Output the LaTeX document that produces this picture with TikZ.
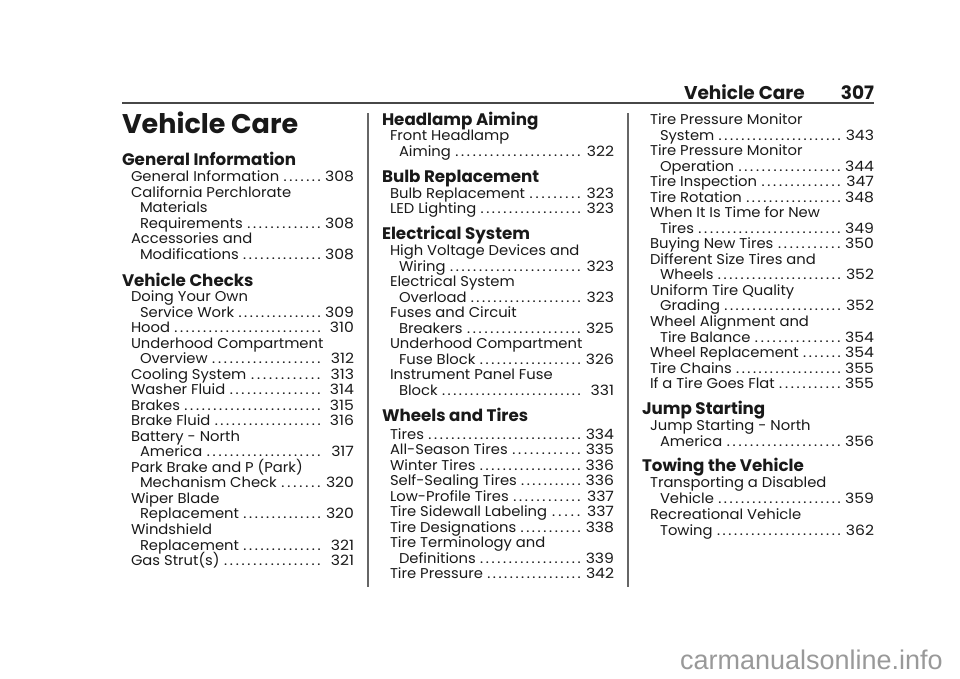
\documentclass[tikz,border=0pt]{standalone}
\usepackage{fontspec}
\setmainfont{Poppins}
\newfontfamily\wmfont{Liberation Sans}
\newfontfamily\pagefont[FakeStretch=1.1]{Poppins}
\newfontfamily\bodyfam[FakeStretch=1.04]{Poppins}
\definecolor{ink}{gray}{0.1}
\definecolor{rulec}{gray}{0.4}
\definecolor{wm}{gray}{0.6}
\newcounter{nn}
\newcommand{\bodyf}{\bodyfam\fontsize{14.2}{15}\selectfont}
\newcommand{\headf}{\fontsize{16.7}{17}\bfseries\selectfont}
\newcommand{\pgn}[1]{\hbox to 30pt{\hss\pagefont\fontsize{14.2}{15}\selectfont #1}}
\tikzset{
  txt/.style={anchor=base west,inner sep=0pt,outer sep=0pt,text=ink},
  txtr/.style={anchor=base east,inner sep=0pt,outer sep=0pt,text=ink},
  colrule/.style={draw=rulec,line width=1.3pt},
  toprule/.style={draw=rulec!70!black,line width=1.6pt}
}
% \ent{x0}{y}{xright}{text}{page}
\newcommand{\ent}[5]{\stepcounter{nn}%
  \path let \n1={#3-#1} in node[txt] (e\thenn) at (#1,#2) {\bodyf\hbox to \n1 pt{#4\hskip 3pt\xleaders\hbox to 5.6pt{\hss.\hss}\hfill\hskip 2pt\pgn{#5}}};}
\newcommand{\lin}[3]{\stepcounter{nn}\node[txt] (e\thenn) at (#1,#2) {\bodyf #3};}
\newcommand{\hd}[3]{\stepcounter{nn}\node[txt] (e\thenn) at (#1,#2) {\headf #3};}
\usetikzlibrary{calc}
\begin{document}
\begin{tikzpicture}[x=1pt,y=-1pt]
\useasboundingbox (0,0) rectangle (960,678);
\fill[white] (0,0) rectangle (960,678);
% header
\node[txt] (hd1) at (684,99) {\fontsize{18.5}{19}\bfseries\selectfont Vehicle Care};
\node[txtr] (hd2) at (874,99) {\fontsize{18.5}{19}\bfseries\selectfont 307};
\draw[toprule] (122,103) -- (874,103);
\draw[colrule] (368,113) -- (368,587);
\draw[colrule] (628,113) -- (628,587);
\node[txt] (ttl) at (122,133) {\fontsize{27}{28}\bfseries\selectfont Vehicle Care};
% column 1
\hd{122}{165}{General Information}
\ent{131}{181}{354}{General Information}{308}
\lin{131}{197}{California Perchlorate}
\lin{140}{212}{Materials}
\ent{140}{228}{354}{Requirements}{308}
\lin{131}{243}{Accessories and}
\ent{140}{259}{354}{Modifications}{308}
\hd{122}{286}{Vehicle Checks}
\lin{131}{301}{Doing Your Own}
\ent{140}{317}{354}{Service Work}{309}
\ent{131}{332}{354}{Hood}{310}
\lin{131}{348}{Underhood Compartment}
\ent{140}{363}{354}{Overview}{312}
\ent{131}{379}{354}{Cooling System}{313}
\ent{131}{394}{354}{Washer Fluid}{314}
\ent{131}{410}{354}{Brakes}{315}
\ent{131}{425}{354}{Brake Fluid}{316}
\lin{131}{441}{Battery - North}
\ent{140}{456}{354}{America}{317}
\lin{131}{472}{Park Brake and P (Park)}
\ent{140}{487}{354}{Mechanism Check}{320}
\lin{131}{503}{Wiper Blade}
\ent{140}{518}{354}{Replacement}{320}
\lin{131}{534}{Windshield}
\ent{140}{550}{354}{Replacement}{321}
\ent{131}{565}{354}{Gas Strut(s)}{321}
% column 2
\hd{382}{125}{Headlamp Aiming}
\lin{390}{140}{Front Headlamp}
\ent{399}{156}{614}{Aiming}{322}
\hd{382}{182}{Bulb Replacement}
\ent{390}{198}{614}{Bulb Replacement}{323}
\ent{390}{213}{614}{LED Lighting}{323}
\hd{382}{239}{Electrical System}
\lin{390}{255}{High Voltage Devices and}
\ent{399}{271}{614}{Wiring}{323}
\lin{390}{286}{Electrical System}
\ent{399}{302}{614}{Overload}{323}
\lin{390}{317}{Fuses and Circuit}
\ent{399}{333}{614}{Breakers}{325}
\lin{390}{348}{Underhood Compartment}
\ent{399}{364}{614}{Fuse Block}{326}
\lin{390}{379}{Instrument Panel Fuse}
\ent{399}{395}{614}{Block}{331}
\hd{382}{421}{Wheels and Tires}
\ent{390}{439}{614}{Tires}{334}
\ent{390}{454}{614}{All-Season Tires}{335}
\ent{390}{470}{614}{Winter Tires}{336}
\ent{390}{485}{614}{Self-Sealing Tires}{336}
\ent{390}{501}{614}{Low-Profile Tires}{337}
\ent{390}{516}{614}{Tire Sidewall Labeling}{337}
\ent{390}{532}{614}{Tire Designations}{338}
\lin{390}{547}{Tire Terminology and}
\ent{399}{563}{614}{Definitions}{339}
\ent{390}{578}{614}{Tire Pressure}{342}
% column 3
\lin{650}{124}{Tire Pressure Monitor}
\ent{660}{140}{874}{System}{343}
\lin{650}{155}{Tire Pressure Monitor}
\ent{660}{171}{874}{Operation}{344}
\ent{650}{186}{874}{Tire Inspection}{347}
\ent{650}{202}{874}{Tire Rotation}{348}
\lin{650}{217}{When It Is Time for New}
\ent{660}{233}{874}{Tires}{349}
\ent{650}{248}{874}{Buying New Tires}{350}
\lin{650}{264}{Different Size Tires and}
\ent{660}{279}{874}{Wheels}{352}
\lin{650}{295}{Uniform Tire Quality}
\ent{660}{310}{874}{Grading}{352}
\lin{650}{326}{Wheel Alignment and}
\ent{660}{342}{874}{Tire Balance}{354}
\ent{650}{357}{874}{Wheel Replacement}{354}
\ent{650}{373}{874}{Tire Chains}{355}
\ent{650}{388}{874}{If a Tire Goes Flat}{355}
\hd{642}{414}{Jump Starting}
\lin{650}{430}{Jump Starting - North}
\ent{660}{446}{874}{America}{356}
\hd{642}{471}{Towing the Vehicle}
\lin{650}{487}{Transporting a Disabled}
\ent{660}{503}{874}{Vehicle}{359}
\lin{650}{519}{Recreational Vehicle}
\ent{660}{535}{874}{Towing}{362}
% watermark
\node[txt,text=wm] (wmk) at (680,669) {\wmfont\fontsize{27}{28}\selectfont carmanualsonline.info};
\end{tikzpicture}
\end{document}
